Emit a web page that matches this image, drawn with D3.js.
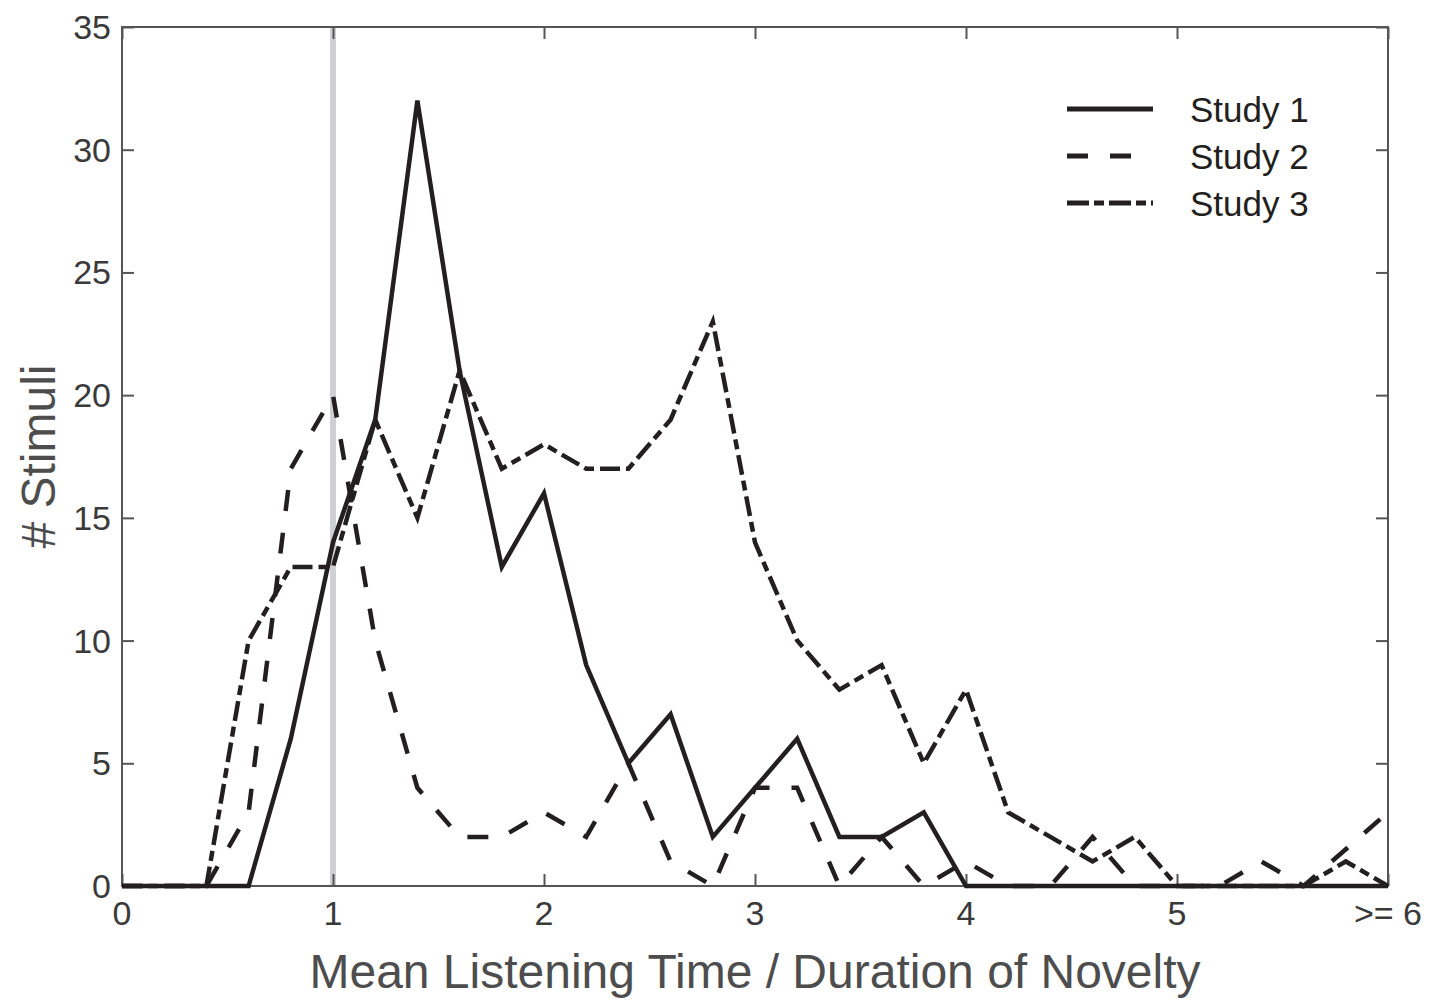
<!DOCTYPE html>
<html>
<head>
<meta charset="utf-8">
<script src="https://cdn.jsdelivr.net/npm/d3@7"></script>
<style>
    body { margin: 0; background: #fff; }
    text { font-family: "Liberation Sans", Arial, Helvetica, sans-serif; }
</style>
</head>
<body>
<div id="chart"></div>
<script>
// bin centres (mean listening time / novelty duration)
var bins = [0, 0.2, 0.4, 0.6, 0.8, 1.0, 1.2, 1.4, 1.6, 1.8, 2.0, 2.2, 2.4, 2.6, 2.8, 3.0,
            3.2, 3.4, 3.6, 3.8, 4.0, 4.2, 4.4, 4.6, 4.8, 5.0, 5.2, 5.4, 5.6, 5.8, 6.0];

var study1 = [0, 0, 0, 0, 6, 14, 19, 32, 21, 13, 16, 9, 5, 7, 2, 4,
              6, 2, 2, 3, 0, 0, 0, 0, 0, 0, 0, 0, 0, 0, 0];
var study2 = [0, 0, 0, 3, 17, 20, 10, 4, 2, 2, 3, 2, 5, 1, 0, 4,
              4, 0, 2, 0, 1, 0, 0, 2, 0, 0, 0, 1, 0, 1.5, 3];
var study3 = [0, 0, 0, 10, 13, 13, 19, 15, 21, 17, 18, 17, 17, 19, 23, 14,
              10, 8, 9, 5, 8, 3, 2, 1, 2, 0, 0, 0, 0, 1, 0];

var xTicks = [0, 1, 2, 3, 4, 5, 6];
var xTickLabels = ['0', '1', '2', '3', '4', '5', '>= 6'];
var yTicks = [0, 5, 10, 15, 20, 25, 30, 35];
var seriesNames = ['Study 1', 'Study 2', 'Study 3'];

var svg = d3.select('#chart')
    .append('svg')
    .attr('width', 1451)
    .attr('height', 1004);

var plotLeft = 122, plotRight = 1388, plotTop = 27, plotBottom = 886;

var x = d3.scaleLinear().domain([0, 6]).range([plotLeft, plotRight]);
var y = d3.scaleLinear().domain([0, 35]).range([plotBottom, plotTop]);

var axisColor = '#555';
var tickLen = 12;

// reference line at 1
svg.append('line')
    .attr('x1', x(1)).attr('x2', x(1))
    .attr('y1', plotTop).attr('y2', plotBottom)
    .attr('stroke', '#cfd0d3')
    .attr('stroke-width', 6);

// inward ticks on all four sides
var g = svg.append('g');
g.append('g')
    .attr('transform', 'translate(0,' + plotBottom + ')')
    .call(d3.axisBottom(x).tickValues(xTicks).tickSize(-tickLen).tickFormat(''));
g.append('g')
    .attr('transform', 'translate(0,' + plotTop + ')')
    .call(d3.axisTop(x).tickValues(xTicks).tickSize(-tickLen).tickFormat(''));
g.append('g')
    .attr('transform', 'translate(' + plotLeft + ',0)')
    .call(d3.axisLeft(y).tickValues(yTicks).tickSize(-tickLen).tickFormat(''));
g.append('g')
    .attr('transform', 'translate(' + plotRight + ',0)')
    .call(d3.axisRight(y).tickValues(yTicks).tickSize(-tickLen).tickFormat(''));
g.selectAll('.domain').remove();
g.selectAll('.tick text').remove();
g.selectAll('.tick line').attr('stroke', axisColor).attr('stroke-width', 2);

// box
svg.append('rect')
    .attr('x', plotLeft).attr('y', plotTop)
    .attr('width', plotRight - plotLeft).attr('height', plotBottom - plotTop)
    .attr('fill', 'none')
    .attr('stroke', axisColor)
    .attr('stroke-width', 2);

// tick labels
svg.append('g')
    .selectAll('text')
    .data(xTicks)
    .enter()
    .append('text')
    .attr('x', function(d) { return x(d); })
    .attr('y', plotBottom + 39)
    .attr('text-anchor', 'middle')
    .attr('font-size', '34px')
    .attr('fill', '#3a3a3a')
    .text(function(d, i) { return xTickLabels[i]; });

svg.append('g')
    .selectAll('text')
    .data(yTicks)
    .enter()
    .append('text')
    .attr('x', plotLeft - 11)
    .attr('y', function(d) { return y(d) + 12; })
    .attr('text-anchor', 'end')
    .attr('font-size', '34px')
    .attr('fill', '#3a3a3a')
    .text(function(d) { return d; });

// axis titles
svg.append('text')
    .attr('x', (plotLeft + plotRight) / 2)
    .attr('y', 988)
    .attr('text-anchor', 'middle')
    .attr('font-size', '48px')
    .attr('fill', '#4d4d4d')
    .text('Mean Listening Time / Duration of Novelty');

svg.append('text')
    .attr('transform', 'translate(55,' + ((plotTop + plotBottom) / 2) + ') rotate(-90)')
    .attr('text-anchor', 'middle')
    .attr('font-size', '48px')
    .attr('fill', '#4d4d4d')
    .text('# Stimuli');

// the three studies
var series = [study1, study2, study3];
var dashes = [null, '21,22', '20,6,10,6'];

var line = d3.line()
    .x(function(d, i) { return x(bins[i]); })
    .y(function(d) { return y(d); });

// draw study 3 first, study 1 on top
for (var k = 2; k >= 0; k--) {
    svg.append('path')
        .datum(series[k])
        .attr('d', line)
        .attr('fill', 'none')
        .attr('stroke', '#231f20')
        .attr('stroke-width', 4.5)
        .attr('stroke-linejoin', 'miter')
        .attr('stroke-dasharray', dashes[k]);
}

// legend
var legendDashes = [null, '21,22', '22,5,10,5'];
var legend = svg.append('g');
seriesNames.forEach(function(name, i) {
    var ly = 109 + i * 47;
    legend.append('line')
        .attr('x1', 1067).attr('x2', 1153)
        .attr('y1', ly).attr('y2', ly)
        .attr('stroke', '#231f20')
        .attr('stroke-width', 5)
        .attr('stroke-dasharray', legendDashes[i]);
    legend.append('text')
        .attr('x', 1190)
        .attr('y', ly + 13)
        .attr('font-size', '35px')
        .attr('fill', '#231f20')
        .text(name);
});
</script>
</body>
</html>
